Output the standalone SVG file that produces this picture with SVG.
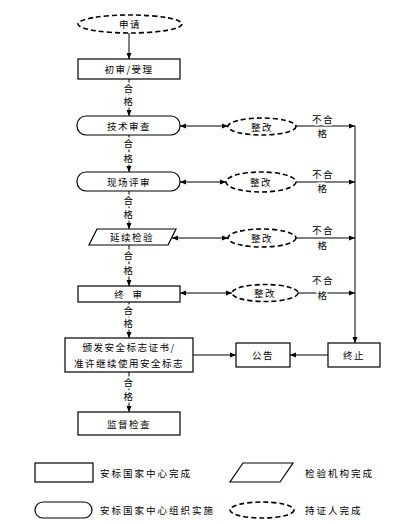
<svg xmlns="http://www.w3.org/2000/svg" width="406" height="524" viewBox="0 0 406 524">
<style>
.n{fill:#fff;stroke:#000;stroke-width:1.2}
.d{fill:#fff;stroke:#000;stroke-width:1.6;stroke-dasharray:5 3}
.t{font-family:"Noto Sans CJK SC","Liberation Sans",sans-serif;font-size:9.5px;letter-spacing:1.5px;text-anchor:middle;dominant-baseline:central;fill:#000}
.h{stroke:#fff;stroke-width:3;paint-order:stroke}
.l{stroke:#000;stroke-width:1;fill:none}
.lt{font-family:"Noto Sans CJK SC","Liberation Sans",sans-serif;font-size:9.5px;letter-spacing:2px;dominant-baseline:central;fill:#000}
</style>
<defs>
<marker id="a" viewBox="0 0 6 6" refX="6" refY="3" markerWidth="6" markerHeight="6" orient="auto-start-reverse" markerUnits="userSpaceOnUse">
<path d="M0,0.5L6,3L0,5.5Z" fill="#000"/>
</marker>
</defs>
<g id="connectors">
<line class="l" x1="129" y1="33" x2="129" y2="59" marker-end="url(#a)"/>
<line class="l" x1="129" y1="79" x2="129" y2="116" marker-end="url(#a)"/>
<line class="l" x1="129" y1="135" x2="129" y2="172" marker-end="url(#a)"/>
<line class="l" x1="129" y1="191" x2="129" y2="229" marker-end="url(#a)"/>
<line class="l" x1="129" y1="245" x2="129" y2="286" marker-end="url(#a)"/>
<line class="l" x1="129" y1="302" x2="129" y2="338" marker-end="url(#a)"/>
<line class="l" x1="129" y1="372" x2="129" y2="412" marker-end="url(#a)"/>
<line class="l" x1="180" y1="126" x2="228" y2="126" marker-start="url(#a)" marker-end="url(#a)"/>
<line class="l" x1="180" y1="182" x2="226" y2="182" marker-start="url(#a)" marker-end="url(#a)"/>
<line class="l" x1="172" y1="238" x2="228" y2="238" marker-start="url(#a)" marker-end="url(#a)"/>
<line class="l" x1="180" y1="293" x2="232" y2="293" marker-start="url(#a)" marker-end="url(#a)"/>
<line class="l" x1="296" y1="126" x2="355" y2="126" marker-end="url(#a)"/>
<line class="l" x1="296" y1="182" x2="355" y2="182" marker-end="url(#a)"/>
<line class="l" x1="296" y1="238" x2="355" y2="238" marker-end="url(#a)"/>
<line class="l" x1="298" y1="293" x2="355" y2="293" marker-end="url(#a)"/>
<line class="l" x1="355" y1="126" x2="355" y2="343" marker-end="url(#a)"/>
<line class="l" x1="328" y1="355" x2="290" y2="355" marker-end="url(#a)"/>
<line class="l" x1="193" y1="355" x2="236" y2="355" marker-end="url(#a)"/>
<text class="t h" x="129" y="88">合</text><text class="t h" x="129" y="101">格</text>
<text class="t h" x="129" y="143">合</text><text class="t h" x="129" y="158">格</text>
<text class="t h" x="129" y="200">合</text><text class="t h" x="129" y="214">格</text>
<text class="t h" x="129" y="255">合</text><text class="t h" x="129" y="270">格</text>
<text class="t h" x="129" y="310">合</text><text class="t h" x="129" y="323">格</text>
<text class="t h" x="129" y="382">合</text><text class="t h" x="129" y="396">格</text>
<text class="t h" x="323" y="119">不合</text><text class="t h" x="323" y="133">格</text>
<text class="t h" x="323" y="174">不合</text><text class="t h" x="323" y="188">格</text>
<text class="t h" x="323" y="230">不合</text><text class="t h" x="323" y="245">格</text>
<text class="t h" x="323" y="280">不合</text><text class="t h" x="323" y="295">格</text>
</g>
<g id="n-apply"><ellipse class="d" cx="130" cy="24" rx="52" ry="9"/><text class="t" x="130" y="24">申请</text></g>
<g id="n-initial"><rect class="n" x="78" y="59" width="102" height="20"/><text class="t" x="129" y="69">初审/受理</text></g>
<g id="n-tech"><rect class="n" x="77" y="116" width="103" height="19" rx="9"/><text class="t" x="129" y="125.5">技术审查</text></g>
<g id="n-site"><rect class="n" x="77" y="172" width="103" height="19" rx="9"/><text class="t" x="129" y="181.5">现场评审</text></g>
<g id="n-test"><polygon class="n" points="97,229 176,229 168,245 89,245"/><text class="t" x="132" y="237">延续检验</text></g>
<g id="n-final"><rect class="n" x="78" y="286" width="102" height="16"/><text class="t" x="129" y="294" xml:space="preserve">终  审</text></g>
<g id="n-cert"><rect class="n" x="65" y="338" width="128" height="34"/><text class="t" x="129" y="347">颁发安全标志证书/</text><text class="t" x="129" y="363">准许继续使用安全标志</text></g>
<g id="n-super"><rect class="n" x="78" y="412" width="102" height="23"/><text class="t" x="129" y="423.5">监督检查</text></g>
<g id="n-fix1"><ellipse class="d" cx="262" cy="126.5" rx="34" ry="8.5"/><text class="t" x="262" y="126.5">整改</text></g>
<g id="n-fix2"><ellipse class="d" cx="261" cy="182" rx="35" ry="10"/><text class="t" x="261" y="182">整改</text></g>
<g id="n-fix3"><ellipse class="d" cx="262" cy="238" rx="34" ry="9"/><text class="t" x="262" y="238">整改</text></g>
<g id="n-fix4"><ellipse class="d" cx="265" cy="293" rx="33" ry="8.5"/><text class="t" x="265" y="293">整改</text></g>
<g id="n-stop"><rect class="n" x="328" y="343" width="52" height="24"/><text class="t" x="354" y="355">终止</text></g>
<g id="n-notice"><rect class="n" x="236" y="343" width="54" height="24"/><text class="t" x="263" y="355">公告</text></g>
<g id="legend">
<rect class="n" x="35" y="463" width="58" height="19"/><text class="lt" x="100" y="473">安标国家中心完成</text>
<polygon class="n" points="243,463 293,463 280,482 230,482"/><text class="lt" x="305" y="473">检验机构完成</text>
<rect class="n" x="35" y="502" width="57" height="16" rx="8"/><text class="lt" x="100" y="510">安标国家中心组织实施</text>
<ellipse class="d" cx="262" cy="510" rx="32" ry="8"/><text class="lt" x="305" y="510">持证人完成</text>
</g>
</svg>
